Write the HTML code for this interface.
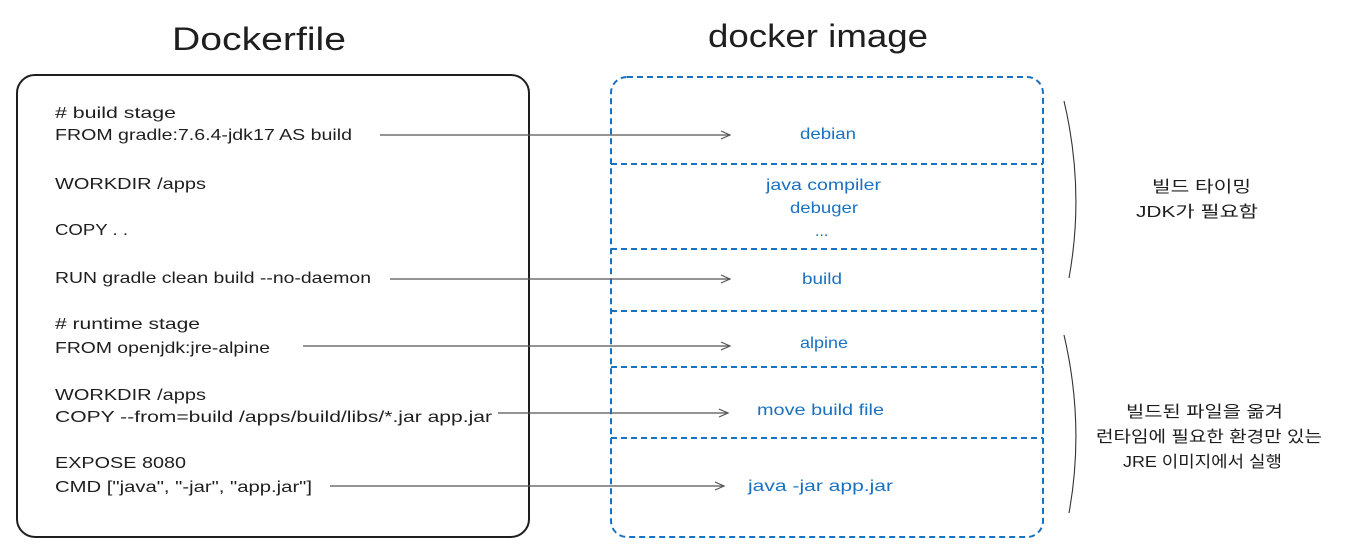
<!DOCTYPE html>
<html><head><meta charset="utf-8"><style>
body{margin:0;background:#fff;width:1350px;height:551px;overflow:hidden}
svg text{font-family:"Liberation Sans","Noto Sans CJK KR",sans-serif}
</style></head><body>
<svg width="1350" height="551" viewBox="0 0 1350 551" xmlns="http://www.w3.org/2000/svg">
<defs><marker id="a" markerWidth="12" markerHeight="12" refX="10" refY="6" orient="auto" markerUnits="userSpaceOnUse"><path d="M1,2 L10,6 L1,10" fill="none" stroke="#555" stroke-width="1.2"/></marker></defs>
<text x="172" y="50" font-size="32" textLength="174" lengthAdjust="spacingAndGlyphs" fill="#1e1e1e">Dockerfile</text>
<text x="708" y="47" font-size="32" textLength="220" lengthAdjust="spacingAndGlyphs" fill="#1e1e1e">docker image</text>
<rect x="17" y="75" width="512" height="462" rx="18" fill="none" stroke="#1e1e1e" stroke-width="2"/>
<g font-size="16" fill="#1e1e1e" lengthAdjust="spacingAndGlyphs">
<text x="55" y="118" textLength="121" lengthAdjust="spacingAndGlyphs">#  build stage</text>
<text x="55" y="140" textLength="297" lengthAdjust="spacingAndGlyphs">FROM gradle:7.6.4-jdk17 AS build</text>
<text x="55" y="189" textLength="151" lengthAdjust="spacingAndGlyphs">WORKDIR /apps</text>
<text x="55" y="235" textLength="73" lengthAdjust="spacingAndGlyphs">COPY . .</text>
<text x="55" y="283" textLength="316" lengthAdjust="spacingAndGlyphs">RUN gradle clean build --no-daemon</text>
<text x="55" y="329" textLength="145" lengthAdjust="spacingAndGlyphs">#  runtime stage</text>
<text x="55" y="353" textLength="215" lengthAdjust="spacingAndGlyphs">FROM openjdk:jre-alpine</text>
<text x="55" y="400" textLength="151" lengthAdjust="spacingAndGlyphs">WORKDIR /apps</text>
<text x="55" y="422" textLength="437" lengthAdjust="spacingAndGlyphs">COPY --from=build  /apps/build/libs/*.jar app.jar</text>
<text x="55" y="468" textLength="131" lengthAdjust="spacingAndGlyphs">EXPOSE 8080</text>
<text x="55" y="492" textLength="257" lengthAdjust="spacingAndGlyphs">CMD ["java", "-jar", "app.jar"]</text>
</g>
<rect x="611" y="77" width="432" height="460" rx="16" fill="none" stroke="#1971c2" stroke-width="2" stroke-dasharray="6 4"/>
<g stroke="#1971c2" stroke-width="2" stroke-dasharray="6 4">
<line x1="611" y1="164" x2="1043" y2="164"/><line x1="611" y1="249" x2="1043" y2="249"/>
<line x1="611" y1="311" x2="1043" y2="311"/><line x1="611" y1="367" x2="1043" y2="367"/>
<line x1="611" y1="438" x2="1043" y2="438"/></g>
<g stroke="#555" stroke-width="1.3" marker-end="url(#a)">
<line x1="380" y1="135" x2="730" y2="135"/><line x1="390" y1="279" x2="730" y2="279"/>
<line x1="303" y1="346" x2="730" y2="346"/><line x1="498" y1="413" x2="728" y2="413"/>
<line x1="330" y1="486" x2="724" y2="486"/></g>
<g font-size="16" fill="#1971c2">
<text x="800" y="139" textLength="56" lengthAdjust="spacingAndGlyphs">debian</text>
<text x="766" y="190" textLength="115" lengthAdjust="spacingAndGlyphs">java compiler</text>
<text x="790" y="213" textLength="68" lengthAdjust="spacingAndGlyphs">debuger</text>
<text x="815" y="236">...</text>
<text x="802" y="284" textLength="40" lengthAdjust="spacingAndGlyphs">build</text>
<text x="800" y="348" textLength="48" lengthAdjust="spacingAndGlyphs">alpine</text>
<text x="757" y="415" textLength="127" lengthAdjust="spacingAndGlyphs">move build file</text>
<text x="748" y="491" textLength="145" lengthAdjust="spacingAndGlyphs">java -jar app.jar</text></g>
<g fill="none" stroke="#333" stroke-width="1.1">
<path d="M1064,101 Q1085,190 1069,278"/><path d="M1064,335 Q1085,425 1069,513"/></g>
<g font-size="16" fill="#1e1e1e">
<text x="1152" y="192" textLength="99" lengthAdjust="spacingAndGlyphs">빌드 타이밍</text>
<text x="1136" y="217" textLength="122" lengthAdjust="spacingAndGlyphs">JDK가 필요함</text>
<text x="1126" y="417" textLength="157" lengthAdjust="spacingAndGlyphs">빌드된 파일을 옮겨</text>
<text x="1096" y="442" textLength="226" lengthAdjust="spacingAndGlyphs">런타임에 필요한 환경만 있는</text>
<text x="1123" y="467" textLength="159" lengthAdjust="spacingAndGlyphs">JRE 이미지에서 실행</text></g>
</svg>
</body></html>
